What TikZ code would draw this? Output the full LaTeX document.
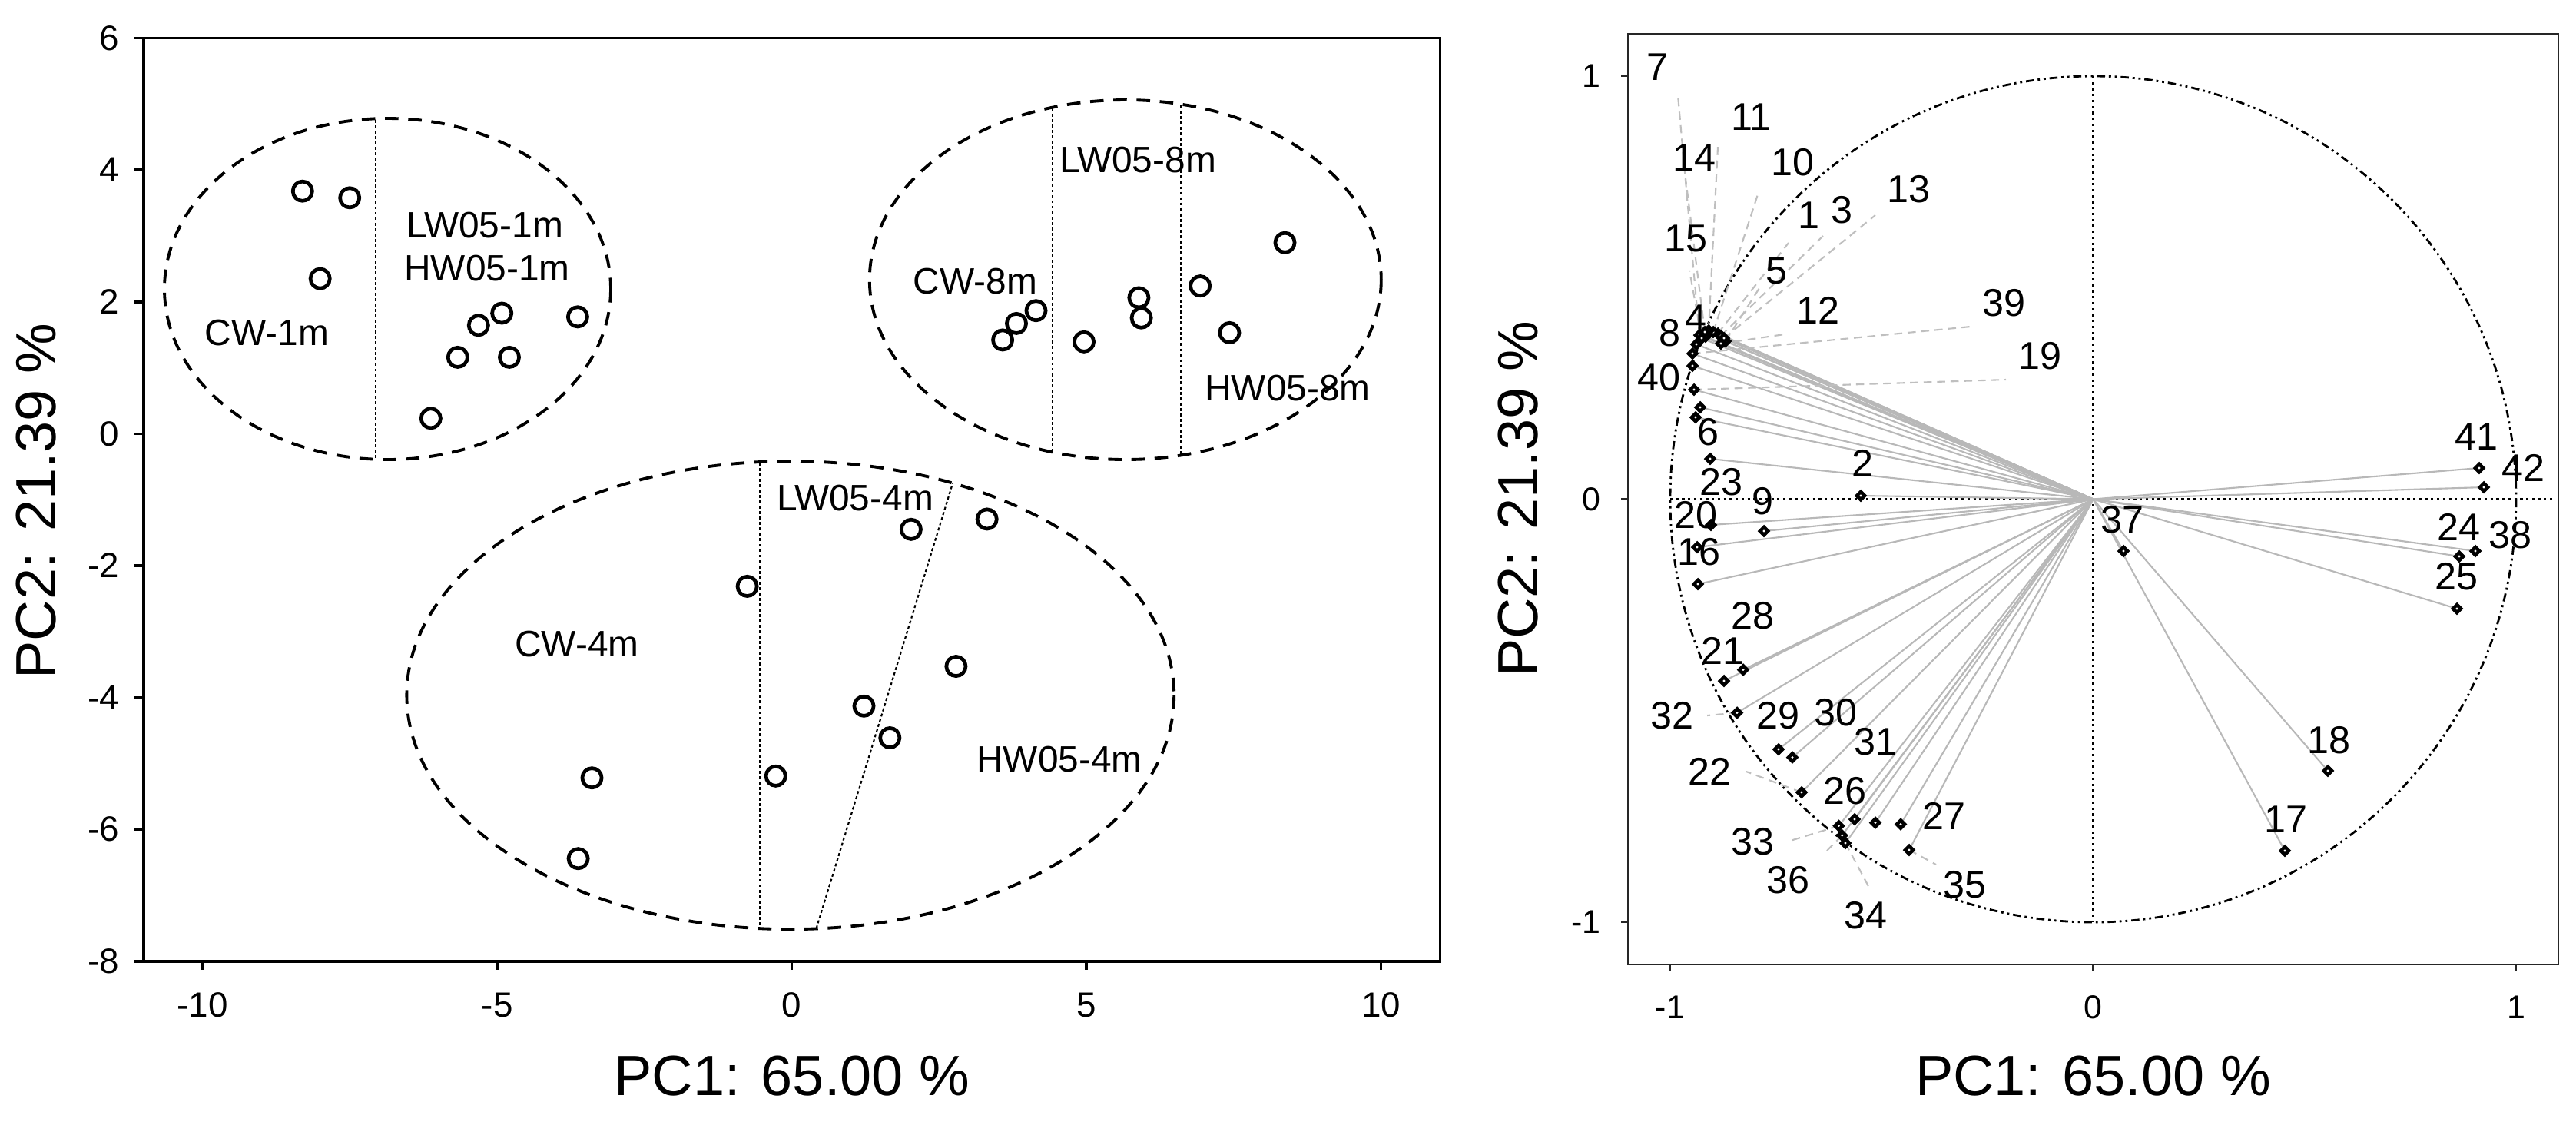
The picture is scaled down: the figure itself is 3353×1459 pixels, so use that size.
\documentclass[tikz,border=0pt]{standalone}
\usepackage{fontspec}
\setmainfont{Liberation Sans}
\usetikzlibrary{shapes.geometric}
\begin{document}
\begin{tikzpicture}[x=0.01cm,y=-0.01cm,
  frameL/.style={line width=1pt},
  frameR/.style={line width=0.75pt, draw=black!85},
  mk/.style={circle, draw=black, line width=1.34pt, minimum size=0.252cm, inner sep=0pt},
  grp/.style={dash pattern=on 5pt off 3.6pt, line width=1.1pt},
  divl/.style={dash pattern=on 1.1pt off 0.9pt, line width=0.6pt},
  ticklab/.style={font=\fontsize{13}{15}\selectfont, inner sep=0pt},
  ticklabR/.style={font=\fontsize{12.2}{14}\selectfont, inner sep=0pt},
  grplab/.style={font=\fontsize{13.6}{16}\selectfont, inner sep=0pt},
  axlab/.style={font=\fontsize{21}{25}\selectfont, inner sep=0pt},
  vlab/.style={font=\fontsize{14.3}{17}\selectfont, inner sep=0pt},
  gline/.style={draw=black!28, line width=0.6pt},
  leader/.style={draw=black!25, line width=0.6pt, dash pattern=on 3pt off 2pt},
  circ/.style={line width=0.8pt, dash pattern=on 3pt off 1.4pt on 0.8pt off 1.4pt on 0.8pt off 1.4pt},
  axd/.style={line width=0.8pt, dash pattern=on 0.9pt off 1.3pt},
  dmd/.style={diamond, draw=black, fill=white, line width=1.3pt, inner sep=0pt, minimum width=0.12cm, minimum height=0.12cm}
]
\useasboundingbox (0,0) rectangle (3353,1459);

% ================= LEFT PLOT =================
\draw[frameL] (187,49.6) rectangle (1874.4,1250.8);
\foreach \v [count=\i] in {6,4,...,-8} {
  \draw[frameL] (175,{564.4-85.8*\v}) -- (187,{564.4-85.8*\v});
  \node[ticklab, anchor=east] (ly\i) at (156,{564.4-85.8*\v}) {\v};
}
\foreach \u [count=\i] in {-10,-5,0,5,10} {
  \draw[frameL] ({1030.7+76.7*\u},1250.8) -- ({1030.7+76.7*\u},1262);
  \node[ticklab] (lx\i) at ({1030.7+76.7*\u},1307.5) {\u};
}
\node[axlab] (xlabL) at (1030.7,1400.5) {PC1: 65.00 \%};
\node[axlab, rotate=90] (ylabL) at (47,652) {PC2: 21.39 \%};

% group ellipses
\draw[grp] (504.5,376) ellipse[x radius=290.5, y radius=222];
\draw[grp] (1464.8,364) ellipse[x radius=333, y radius=234];
\draw[grp] (1028.8,904.6) ellipse[x radius=499.4, y radius=304.5];
% dividing lines
\draw[divl] (489,156) -- (489,597);
\draw[divl] (1369.6,141) -- (1369.6,587);
\draw[divl] (1536.7,137) -- (1536.7,591);
\draw[divl] (989.5,602) -- (989.5,1207);
\draw[divl] (1062.6,1208) -- (1240,629);

% markers
\foreach \x/\y [count=\i] in {393.8/248.7, 455.2/257.3, 416.7/362.6, 653.2/407.5, 622.8/423.3, 751.9/412.3, 595.8/464.9, 663/464.9, 560.8/544.3,
  1305.1/442.4, 1323/420.9, 1348.5/404.2, 1411/444.8, 1482.4/387.4, 1485.6/413.7, 1562.2/372.1, 1600.4/432.9, 1672.5/315.7,
  1185.9/688.8, 1284.7/675.4, 972.6/762.9, 770.5/1012.2, 752.6/1117.2, 1244.4/867, 1124.5/918.8, 1158.3/960, 1009.7/1009.8}
  \node[mk] (m\i) at (\x,\y) {};

% group labels
\node[grplab] (g1a) at (631,293) {LW05-1m};
\node[grplab] (g1b) at (634,349) {HW05-1m};
\node[grplab] (g1c) at (347.5,433) {CW-1m};
\node[grplab] (g2a) at (1481,208) {LW05-8m};
\node[grplab] (g2b) at (1269.5,366) {CW-8m};
\node[grplab] (g2c) at (1676,505) {HW05-8m};
\node[grplab] (g3a) at (1113,648) {LW05-4m};
\node[grplab] (g3b) at (751,838) {CW-4m};
\node[grplab] (g3c) at (1379,988) {HW05-4m};

% ================= RIGHT PLOT =================
\coordinate (O) at (2724.5,649.5);
\draw[frameR] (2119,43.9) rectangle (3330,1255.1);
\foreach \v/\y [count=\i] in {1/98.9, 0/649.5, -1/1200.1} {
  \draw[frameR] (2110,\y) -- (2119,\y);
  \node[ticklabR, anchor=east] (ry\i) at (2084,\y) {\v};
}
\foreach \v/\x [count=\i] in {-1/2174, 0/2724.5, 1/3275} {
  \draw[frameR] (\x,1255.1) -- (\x,1264);
  \node[ticklabR] (rx\i) at (\x,1311) {\v};
}
\node[axlab] (xlabR) at (2724.5,1400.5) {PC1: 65.00 \%};
\node[axlab, rotate=90] (ylabR) at (1976,649.5) {PC2: 21.39 \%};

\draw[circ] (O) circle[radius=550.5];
\draw[axd] (2174,649.5) -- (3323,649.5);
\draw[axd] (2724.5,99) -- (2724.5,1200);

% loading points
\foreach \n/\x/\y in {7/2212/436, 11/2224/430, 14/2219/432, 10/2230/432, 13/2244/440, 1/2236/434, 3/2240/437,
  15/2215/440, 5/2246/444, 12/2240/447, 8/2208/448, 4/2220/438, 39/2203/460, 40/2203/476, 19/2205/507,
  6/2213/530, q1/2207/543, 23/2226/597, 2/2422/645, 20/2227/683, 9/2296/691, 16/2209/712, q2/2210/760,
  28/2269/871.5, 21/2244/886, 32/2261/927.5, 29/2315/975, 30/2333/985.5, 22/2345/1031, 26/2414/1066,
  31/2441/1070.5, 27/2474/1072.5, 33/2393.5/1074.6, 36/2397.7/1087, 34/2402/1097, 35/2485/1106,
  37/2764/717, 41/3227/609, 42/3233/634, 38/3222/717, 24/3201/724, 25/3198/792, 18/3030/1003, 17/2974/1107}
  \coordinate (p\n) at (\x,\y);

\foreach \n in {1,...,42} \draw[gline] (O) -- (p\n);
\foreach \n in {q1,q2} \draw[gline] (O) -- (p\n);

% label leaders
\foreach \n/\x/\y in {7/2184/124, 11/2236/191, 14/2194/232, 15/2199/352, 10/2288/253, 1/2328/316, 3/2373/307,
  13/2441/280, 5/2290/375, 12/2323/435, 39/2565/425, 19/2611/494, 32/2222/931, 22/2273/1004,
  33/2327/1095, 36/2375/1110, 34/2433/1155, 35/2520/1125} {
  \coordinate (e\n) at (\x,\y);
  \draw[leader] (p\n) -- (e\n);
}

\foreach \n in {1,...,42} \node[dmd] (d\n) at (p\n) {};
\foreach \n in {q1,q2} \node[dmd] (d\n) at (p\n) {};

% variable labels
\foreach \n/\x/\y in {7/2157/87, 11/2279.5/152.5, 14/2205/205, 10/2333.4/211.4, 13/2484.7/246.6, 1/2354/279.8,
  3/2397.7/273.6, 15/2194.6/310.9, 5/2312.7/352.3, 12/2366.6/404.1, 8/2173.8/433.2, 4/2207/414.5,
  40/2159.3/491.2, 39/2608.9/394.3, 19/2655/463.5, 6/2223.6/561.7, 2/2424.6/603.1, 23/2240/627,
  9/2294/651.8, 20/2207/670.5, 16/2211/718, 28/2281.6/801, 21/2242.2/846.6, 32/2176/931.6,
  29/2314/931.6, 30/2389.4/927.5, 31/2441.2/964.8, 22/2225.6/1004, 26/2401.8/1029, 27/2530.3/1062.2,
  33/2281.6/1095.3, 36/2327.2/1145, 35/2557.2/1151.3, 34/2428.8/1190.7, 41/3223.4/568.4, 42/3284.9/609.4,
  37/2762.5/676, 24/3200.4/686.2, 38/3267/696.5, 25/3197.8/750.2, 18/3031.4/963.3, 17/2975/1065.7}
  \node[vlab] (t\n) at (\x,\y) {\n};
\end{tikzpicture}
\end{document}
